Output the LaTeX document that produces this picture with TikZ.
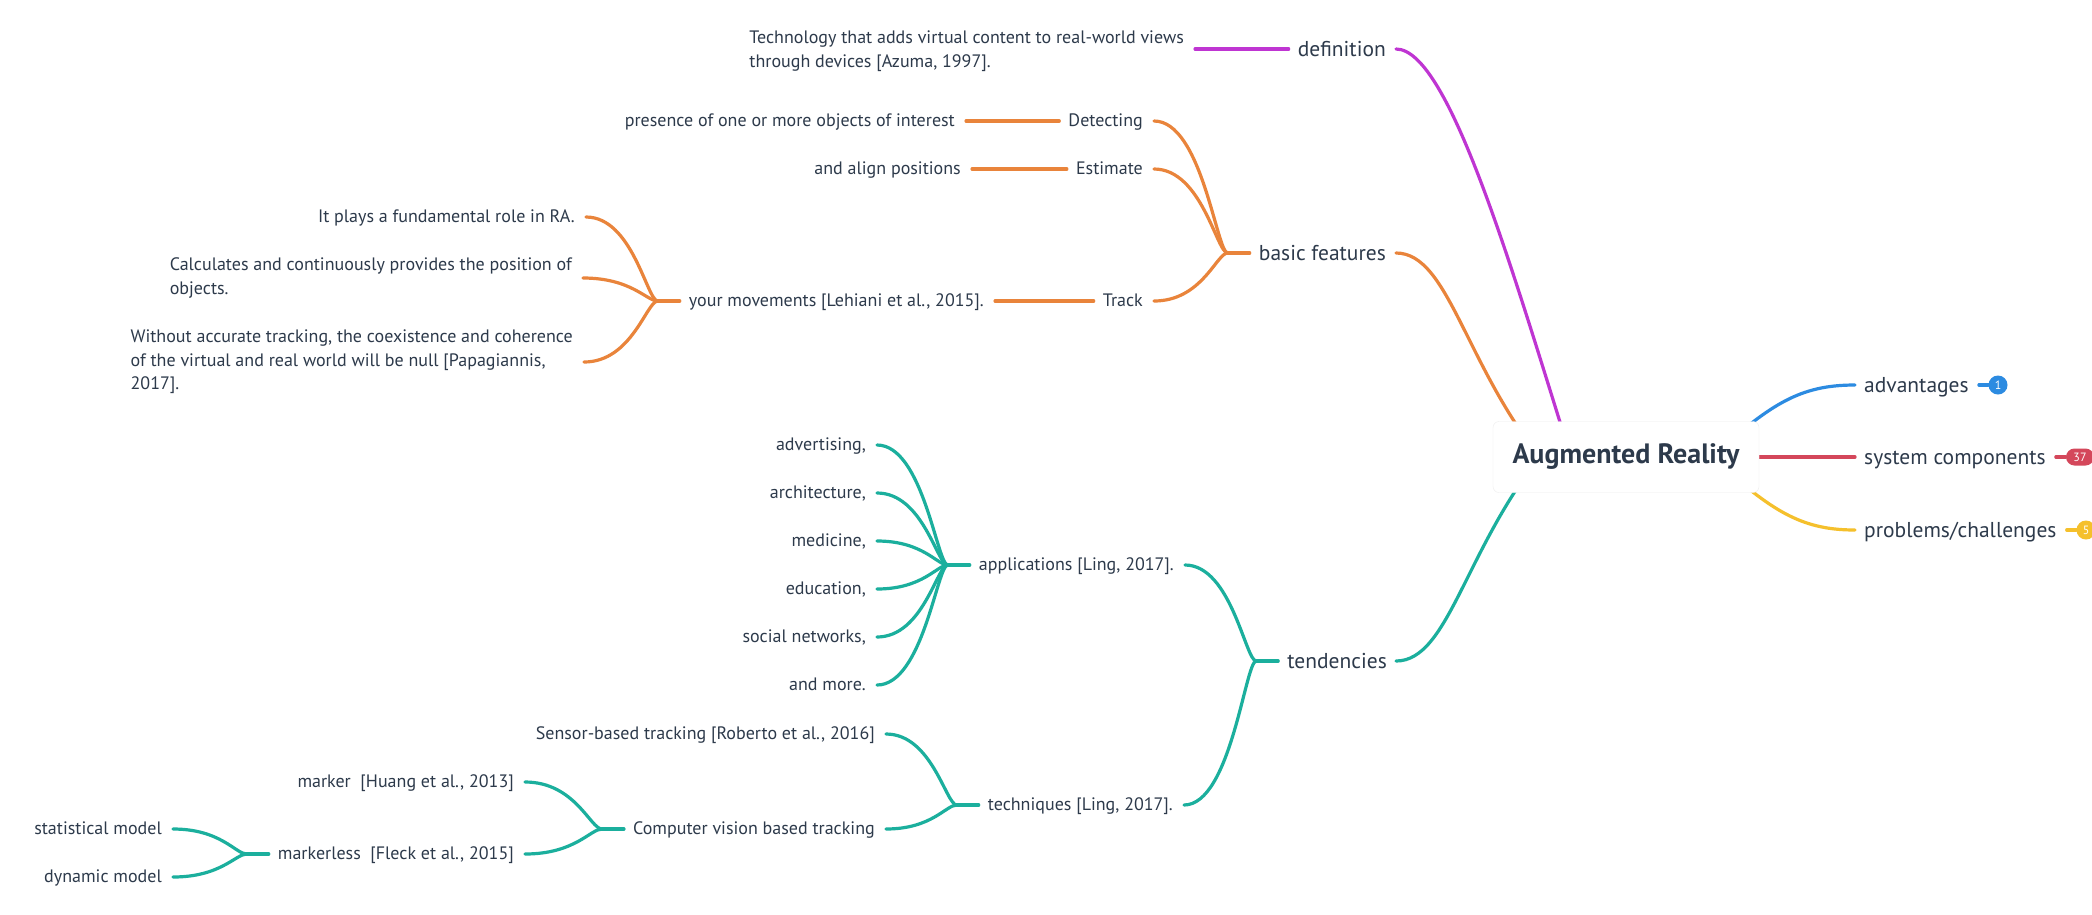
\documentclass[tikz,border=0pt]{standalone}
\usepackage{fontspec}
\setmainfont{PT Sans}
\usetikzlibrary{calc}
\definecolor{txt}{HTML}{2D3A4B}
\definecolor{cpur}{HTML}{BF35D2}
\definecolor{corg}{HTML}{E9843B}
\definecolor{cteal}{HTML}{1BAF9D}
\definecolor{cblue}{HTML}{2C8BE1}
\definecolor{cred}{HTML}{D4475B}
\definecolor{cyel}{HTML}{F5C02C}
\tikzset{
  conn/.style={line width=3.2pt, line cap=round},
  l1/.style={inner sep=0pt, text=txt, font=\fontsize{21.5}{26}\selectfont, text height=18.5pt, text depth=4.5pt},
  lf/.style={inner sep=0pt, text=txt, font=\fontsize{18}{23.5}\selectfont, text height=15pt, text depth=4pt},
  ml/.style={inner sep=0pt, text=txt, font=\fontsize{18}{23.5}\selectfont, align=left},
  rootbox/.style={draw=black!7, fill=white, rounded corners=6pt, minimum width=266pt, minimum height=71pt, text=txt, font=\bfseries\fontsize{28}{32}\selectfont},
  badge/.style={circle, fill=#1, text=white, inner sep=0pt, minimum size=19pt, font=\fontsize{12}{12}\selectfont},
}
\newcommand\mmlink[3]{\draw[conn,#1] let \p1=($(#2.east)+(11,0)$), \p2=($(#3.west)+(-31,0)$) in (\p1) .. controls ({\x1+0.65*(\x2-\x1)},\y1) and ({\x1+0.85*(\x2-\x1)},\y2) .. (\p2);}
\newcommand\mmstub[2]{\draw[conn,#1] ($(#2.west)+(-9,0)$) -- ($(#2.west)+(-31,0)$);}
\begin{document}
\begin{tikzpicture}[x=1pt,y=-1pt]
\useasboundingbox (0,0) rectangle (2092,914);
\fill[white] (0,0) rectangle (2092,914);
\clip (0,0) rectangle (2092,914);

% ---------- first level ----------
\node[l1,anchor=east] (def) at (1386,49) {definition};
\node[l1,anchor=east] (bf) at (1386,253) {basic features};
\node[l1,anchor=east] (ten) at (1387,661) {tendencies};
\node[l1,anchor=west] (adv) at (1864,385) {advantages};
\node[l1,anchor=west] (sys) at (1864,457) {system components};
\node[l1,anchor=west] (prob) at (1864,530) {problems/challenges};

% ---------- definition ----------
\node[ml,anchor=east] (deft) at (1184,51) {Technology that adds virtual content to real-world views\\through devices [Azuma, 1997].};

% ---------- basic features ----------
\node[lf,anchor=east] (det) at (1143,121) {Detecting};
\node[lf,anchor=east] (det1) at (955,121) {presence of one or more objects of interest};
\node[lf,anchor=east] (est) at (1143,169) {Estimate};
\node[lf,anchor=east] (est1) at (961,169) {and align positions};
\node[lf,anchor=east] (trk) at (1143,301) {Track};
\node[lf,anchor=east] (trk1) at (984,301) {your movements [Lehiani et al., 2015].};
\node[lf,anchor=east] (t1) at (575,217) {It plays a fundamental role in RA.};
\node[ml,anchor=east] (t2) at (572,278) {Calculates and continuously provides the position of\\objects.};
\node[ml,anchor=east] (t3) at (573,362) {Without accurate tracking, the coexistence and coherence\\of the virtual and real world will be null [Papagiannis,\\2017].};

% ---------- tendencies ----------
\node[lf,anchor=east] (app) at (1174,565) {applications [Ling, 2017].};
\node[lf,anchor=east] (a1) at (866,445) {advertising,};
\node[lf,anchor=east] (a2) at (866,493) {architecture,};
\node[lf,anchor=east] (a3) at (866,541) {medicine,};
\node[lf,anchor=east] (a4) at (866,589) {education,\ };
\node[lf,anchor=east] (a5) at (866,637) {social networks,};
\node[lf,anchor=east] (a6) at (866,685) {and more.};
\node[lf,anchor=east] (tech) at (1173,805) {techniques [Ling, 2017].};
\node[lf,anchor=east] (sen) at (875,734) {Sensor-based tracking [Roberto et al., 2016]};
\node[lf,anchor=east] (cv) at (875,829) {Computer vision based tracking};
\node[lf,anchor=east] (mk) at (514,782) {marker\ \ [Huang et al., 2013]};
\node[lf,anchor=east] (mkl) at (514,854) {markerless\ \ [Fleck et al., 2015]};
\node[lf,anchor=east] (st) at (162,829) {statistical model};
\node[lf,anchor=east] (dy) at (162,877) {dynamic model};

% ---------- connectors (left tree) ----------
\coordinate (deftc) at (deft.east |- def.west);
\draw[conn,cpur] ($(deftc)+(11,0)$) -- ($(def.west)+(-9,0)$);
\mmstub{corg}{bf}
\mmlink{corg}{det}{bf} \mmlink{corg}{est}{bf} \mmlink{corg}{trk}{bf}
\mmstub{corg}{det}  \mmlink{corg}{det1}{det}
\mmstub{corg}{est}  \mmlink{corg}{est1}{est}
\mmstub{corg}{trk}  \mmlink{corg}{trk1}{trk}
\mmstub{corg}{trk1}
\mmlink{corg}{t1}{trk1} \mmlink{corg}{t2}{trk1} \mmlink{corg}{t3}{trk1}
\mmstub{cteal}{ten}
\mmlink{cteal}{app}{ten} \mmlink{cteal}{tech}{ten}
\mmstub{cteal}{app}
\mmlink{cteal}{a1}{app} \mmlink{cteal}{a2}{app} \mmlink{cteal}{a3}{app}
\mmlink{cteal}{a4}{app} \mmlink{cteal}{a5}{app} \mmlink{cteal}{a6}{app}
\mmstub{cteal}{tech}
\mmlink{cteal}{sen}{tech} \mmlink{cteal}{cv}{tech}
\mmstub{cteal}{cv}
\mmlink{cteal}{mk}{cv} \mmlink{cteal}{mkl}{cv}
\mmstub{cteal}{mkl}
\mmlink{cteal}{st}{mkl} \mmlink{cteal}{dy}{mkl}

% ---------- root branches (behind root box) ----------
\coordinate (rpur) at (1575,470);
\coordinate (rorg) at (1550,470);
\coordinate (rteal) at (1550,444);
\coordinate (rblue) at (1720,450);
\coordinate (ryel) at (1720,464);
\coordinate (rred) at (1758,457);
\draw[conn,cpur] ($(def.east)+(10,0)$) .. controls (1450,49) and (1515,280) .. (rpur);
\draw[conn,corg] ($(bf.east)+(10,0)$) .. controls (1450,253) and (1465,370) .. (rorg);
\draw[conn,cteal] ($(ten.east)+(9,0)$) .. controls (1450,661) and (1465,544) .. (rteal);
\draw[conn,cblue] (rblue) .. controls (1775,400) and (1805,385) .. ($(adv.west)+(-9,0)$);
\draw[conn,cyel] (ryel) .. controls (1775,514) and (1805,530) .. ($(prob.west)+(-9,0)$);
\draw[conn,cred] (rred) -- ($(sys.west)+(-9,0)$);

\node[rootbox] (root) at (1626,457) {Augmented Reality};

% ---------- badges ----------
\node[badge=cblue] (b1) at (1998,385) {1};
\node[fill=cred, rounded corners=8.5pt, minimum width=28pt, minimum height=17pt, inner sep=0pt, text=white, font=\fontsize{12}{12}\selectfont] (b37) at (2080,457) {37};
\node[badge=cyel] (b5) at (2086,530) {5};
\draw[conn,cblue] ($(adv.east)+(10,0)$) -- (b1.west);
\draw[conn,cred] ($(sys.east)+(10,0)$) -- (b37.west);
\draw[conn,cyel] ($(prob.east)+(10,0)$) -- (b5.west);
\end{tikzpicture}
\end{document}
